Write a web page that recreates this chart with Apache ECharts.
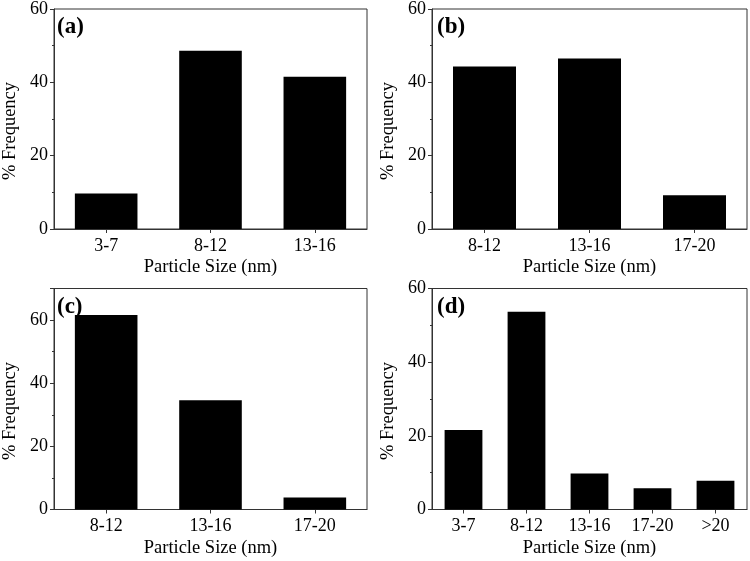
<!DOCTYPE html>
<html><head><meta charset="utf-8">
<script src="https://cdn.jsdelivr.net/npm/echarts@6/dist/echarts.min.js"></script>
<style>html,body{margin:0;padding:0;background:#fff}#c{width:750px;height:561px}</style>
</head><body><div id="c"></div>
<script>
const catsA = ['3-7', '8-12', '13-16'];
const valsA = [9.7, 48.6, 41.5];
const catsB = ['8-12', '13-16', '17-20'];
const valsB = [44.3, 46.5, 9.2];
const catsC = ['8-12', '13-16', '17-20'];
const valsC = [61.6, 34.6, 3.8];
const catsD = ['3-7', '8-12', '13-16', '17-20', '>20'];
const valsD = [21.6, 53.7, 9.8, 5.8, 7.8];
const yMax = [60, 60, 70, 60];
const panelLabels = ['(a)', '(b)', '(c)', '(d)'];

const FONT = '"Liberation Serif", "Times New Roman", serif';
const cats = [catsA, catsB, catsC, catsD];
const vals = [valsA, valsB, valsC, valsD];
const grids = [
  {left: 52, top: 8.5, width: 315, height: 220.5},
  {left: 432, top: 8.5, width: 315, height: 220.5},
  {left: 52, top: 288.5, width: 315, height: 221},
  {left: 432, top: 288.5, width: 315, height: 221}
];
const option = {
  animation: false,
  backgroundColor: '#fff',
  grid: grids.map(g => Object.assign({show: true, borderColor: '#333', borderWidth: 1, backgroundColor: 'transparent'}, g)),
  xAxis: cats.map((c, i) => ({
    type: 'category', gridIndex: i, data: c,
    name: 'Particle Size (nm)', nameLocation: 'middle', nameGap: 29,
    nameTextStyle: {fontFamily: FONT, fontSize: 18.5, color: '#000'},
    axisLine: {lineStyle: {color: '#333', width: 1}},
    axisTick: {show: true, alignWithLabel: true, inside: false, length: 4, lineStyle: {color: '#333'}},
    axisLabel: {fontFamily: FONT, fontSize: 18, color: '#000', margin: 8},
    splitLine: {show: false}
  })),
  yAxis: cats.map((c, i) => ({
    type: 'value', gridIndex: i, min: 0, max: yMax[i], interval: 20,
    name: '% Frequency', nameLocation: 'middle', nameGap: 34,
    nameTextStyle: {fontFamily: FONT, fontSize: 18.5, color: '#000', padding: [0, 24, 0, 0]},
    axisLine: {show: true, lineStyle: {color: '#333', width: 1}},
    axisTick: {show: true, inside: false, length: 4, lineStyle: {color: '#333'}},
    minorTick: {show: true, splitNumber: 2, length: 2, lineStyle: {color: '#333'}},
    axisLabel: {fontFamily: FONT, fontSize: 18, color: '#000', margin: 6,
      formatter: v => (v % 20 === 0 ? String(v) : '')},
    splitLine: {show: false}
  })),
  series: vals.map((v, i) => ({
    type: 'bar', xAxisIndex: i, yAxisIndex: i, data: v,
    barWidth: '60%', itemStyle: {color: '#000'}
  })),
  graphic: panelLabels.map((t, i) => ({
    type: 'text', left: grids[i].left + 5, top: grids[i].top + 7,
    style: {text: t, font: 'bold 23px ' + FONT, fill: '#000'}
  }))
};
const chart = echarts.init(document.getElementById('c'), null, {renderer: 'canvas'});
chart.setOption(option);
</script></body></html>
